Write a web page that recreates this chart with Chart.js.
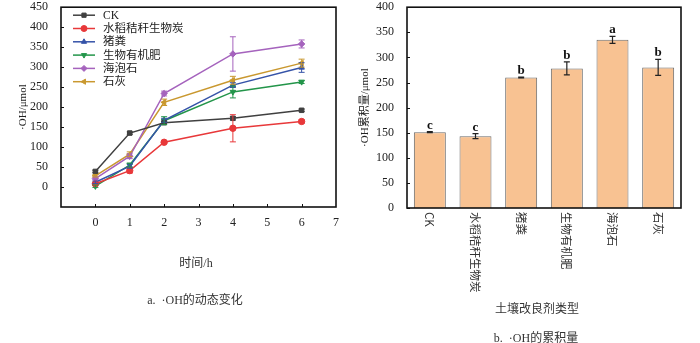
<!DOCTYPE html>
<html><head><meta charset="utf-8">
<script src="https://cdn.jsdelivr.net/npm/chart.js@4.4.1/dist/chart.umd.min.js"></script>
<style>
html,body{margin:0;padding:0;background:#fff;width:700px;height:343px;overflow:hidden;position:relative;}
canvas{position:absolute;top:-5px;}
#c1{left:0;} #c2{left:350px;}
.t{position:absolute;transform:translate(-50%,-50%);white-space:nowrap;color:#333;font-family:'Liberation Serif','Noto Sans CJK SC',serif;font-size:12px;}
</style></head><body>
<canvas id="c1" width="350" height="348"></canvas>
<canvas id="c2" width="350" height="348"></canvas>
<div class="t" style="left:196px;top:262px;">时间/h</div>
<div class="t" style="left:195px;top:299px;">a.&nbsp;&nbsp;·OH的动态变化</div>
<div class="t" style="left:537px;top:308px;">土壤改良剂类型</div>
<div class="t" style="left:536px;top:337px;">b.&nbsp;&nbsp;·OH的累积量</div>
<script>
// ---------- data ----------
const times = [0, 1, 2, 4, 6];
const seriesNames = ['CK', '水稻秸秆生物炭', '猪粪', '生物有机肥', '海泡石', '石灰'];
const ckVals    = [39, 135, 161, 172, 192];
const ckErr     = [3, 3, 3, 4, 3];
const bioVals   = [8, 41, 112, 147, 164];
const bioErr    = [3, 6, 3, 34, 4];
const pigVals   = [12, 52, 167, 255, 299];
const pigErr    = [3, 5, 5, 6, 12];
const orgVals   = [2, 55, 166, 238, 263];
const orgErr    = [3, 5, 10, 15, 4];
const sepVals   = [21, 77, 234, 333, 358];
const sepErr    = [3, 6, 6, 43, 10];
const limeVals  = [28, 82, 212, 267, 310];
const limeErr   = [3, 6, 8, 10, 10];
const xTicks = [0, 1, 2, 3, 4, 5, 6, 7];
const yTicksA = [0, 50, 100, 150, 200, 250, 300, 350, 400, 450];

const barCats = ['CK', '水稻秸秆生物炭', '猪粪', '生物有机肥', '海泡石', '石灰'];
const barVals = [151, 143, 260, 278, 335, 280];
const barErr  = [1, 5, 1, 13, 7, 16];
const barLetters = ['c', 'c', 'b', 'b', 'a', 'b'];
const yTicksB = [0, 50, 100, 150, 200, 250, 300, 350, 400];

// ---------- styles ----------
const SERIF = "'Liberation Serif','Noto Sans CJK SC',serif";
const SANS = "'Noto Sans CJK SC','Liberation Sans',sans-serif";
const colors = ['#404040', '#e8383a', '#3553a8', '#23954a', '#a563bd', '#c9982f'];
const styles = [
  {pointStyle:'rect', rotation:0},
  {pointStyle:'circle', rotation:0},
  {pointStyle:'triangle', rotation:0},
  {pointStyle:'triangle', rotation:180},
  {pointStyle:'rectRot', rotation:0},
  {pointStyle:'triangle', rotation:-90}
];
const allVals = [ckVals, bioVals, pigVals, orgVals, sepVals, limeVals];
const allErr = [ckErr, bioErr, pigErr, orgErr, sepErr, limeErr];

function frameAndTicks(chart, xTickVals, yTickVals) {
  const ctx = chart.ctx, a = chart.chartArea;
  const xs = chart.scales.x, ys = chart.scales.y;
  ctx.save();
  ctx.strokeStyle = '#111';
  ctx.lineWidth = 1;
  ctx.beginPath();
  yTickVals.forEach(v => { const y = Math.round(ys.getPixelForValue(v)) + 0.5; ctx.moveTo(a.left, y); ctx.lineTo(a.left + 3, y); });
  if (xTickVals) xTickVals.forEach(v => { const x = Math.round(xs.getPixelForValue(v)) + 0.5; ctx.moveTo(x, a.bottom); ctx.lineTo(x, a.bottom - 3); });
  ctx.stroke();
  ctx.lineWidth = 1.6;
  ctx.strokeRect(a.left, a.top, a.right - a.left, a.bottom - a.top);
  ctx.restore();
}

// ---------- chart a ----------
const lineDatasets = seriesNames.map((n, i) => ({
  label: n,
  data: times.map((t, j) => ({x: t, y: allVals[i][j]})),
  borderColor: colors[i], backgroundColor: colors[i],
  borderWidth: 1.5, pointRadius: 3.2, pointBorderWidth: 1,
  pointStyle: styles[i].pointStyle, pointRotation: styles[i].rotation,
  tension: 0
}));

const pluginA = {
  id: 'pa',
  afterDatasetsDraw(chart) {
    const ctx = chart.ctx, ys = chart.scales.y, a = chart.chartArea;
    ctx.save();
    ctx.lineWidth = 1;
    chart.data.datasets.forEach((ds, i) => {
      const meta = chart.getDatasetMeta(i);
      ctx.strokeStyle = colors[i];
      meta.data.forEach((pt, j) => {
        const v = allVals[i][j], e = allErr[i][j];
        const y1 = ys.getPixelForValue(v + e), y2 = ys.getPixelForValue(v - e);
        ctx.beginPath();
        ctx.moveTo(pt.x, y1); ctx.lineTo(pt.x, y2);
        ctx.moveTo(pt.x - 3, y1); ctx.lineTo(pt.x + 3, y1);
        ctx.moveTo(pt.x - 3, y2); ctx.lineTo(pt.x + 3, y2);
        ctx.stroke();
      });
    });
    // legend (inside plot, top-left)
    const lx1 = a.left + 12, lx2 = a.left + 34, tx = a.left + 42, y0 = a.top + 8, dy = 13.3;
    seriesNames.forEach((n, i) => {
      const y = y0 + i * dy;
      ctx.strokeStyle = colors[i]; ctx.fillStyle = colors[i]; ctx.lineWidth = 1.5;
      ctx.beginPath(); ctx.moveTo(lx1, y); ctx.lineTo(lx2, y); ctx.stroke();
      ctx.lineWidth = 1;
      Chart.helpers.drawPoint(ctx, {pointStyle: styles[i].pointStyle, rotation: styles[i].rotation, radius: 3, borderWidth: 1}, (lx1 + lx2) / 2, y);
      ctx.fillStyle = '#222';
      ctx.font = '11.5px ' + SERIF;
      ctx.textBaseline = 'middle'; ctx.textAlign = 'left';
      ctx.fillText(n, tx, y + 0.5);
    });
    ctx.restore();
    frameAndTicks(chart, [0,1,2,3,4,5,6], yTicksA);
  }
};

new Chart(document.getElementById('c1'), {
  type: 'line',
  data: {datasets: lineDatasets},
  options: {
    responsive: false, animation: false,
    layout: {padding: {left: 0, right: 14, top: 0, bottom: 0}},
    plugins: {legend: {display: false}, tooltip: {enabled: false}},
    scales: {
      x: {
        type: 'linear', min: -1, max: 7,
        afterBuildTicks: s => { s.ticks = [-1].concat(xTicks).map(v => ({value: v})); },
        ticks: {callback: v => v < 0 ? '' : String(v), font: {family: SERIF, size: 12}, color: '#222', padding: 1, maxRotation: 0, autoSkip: false},
        grid: {display: false}, border: {display: false},
        afterFit: s => { s.height = 136; }
      },
      y: {
        min: -50, max: 450,
        afterBuildTicks: s => { s.ticks = yTicksA.map(v => ({value: v})); },
        ticks: {font: {family: SERIF, size: 12}, color: '#222', padding: 5},
        grid: {display: false}, border: {display: false},
        title: {display: true, text: '·OH/μmol', font: {family: SERIF, size: 11}, color: '#222', padding: {top: 17, bottom: 0}},
        afterFit: s => { s.width = 61; }
      }
    }
  },
  plugins: [pluginA]
});

// ---------- chart b ----------
const pluginB = {
  id: 'pb',
  afterDatasetsDraw(chart) {
    const ctx = chart.ctx, ys = chart.scales.y, xs = chart.scales.x, a = chart.chartArea;
    const meta = chart.getDatasetMeta(0);
    ctx.save();
    ctx.strokeStyle = '#222'; ctx.lineWidth = 1.2;
    meta.data.forEach((bar, j) => {
      const v = barVals[j], e = barErr[j];
      const y1 = ys.getPixelForValue(v + e), y2 = ys.getPixelForValue(v - e);
      ctx.beginPath();
      ctx.moveTo(bar.x, y1); ctx.lineTo(bar.x, y2);
      ctx.moveTo(bar.x - 3, y1); ctx.lineTo(bar.x + 3, y1);
      ctx.moveTo(bar.x - 3, y2); ctx.lineTo(bar.x + 3, y2);
      ctx.stroke();
      ctx.fillStyle = '#111';
      ctx.font = 'bold 13px ' + SERIF;
      ctx.textAlign = 'center'; ctx.textBaseline = 'alphabetic';
      ctx.fillText(barLetters[j], bar.x, y1 - 3);
    });
    // rotated category labels (top-to-bottom)
    ctx.fillStyle = '#333';
    ctx.font = '11.5px ' + SANS;
    barCats.forEach((c, j) => {
      const x = xs.getPixelForTick(j);
      ctx.save();
      ctx.translate(x, a.bottom + 4);
      ctx.rotate(Math.PI / 2);
      ctx.textAlign = 'left'; ctx.textBaseline = 'middle';
      ctx.fillText(c, 0, 0);
      ctx.restore();
    });
    ctx.restore();
    frameAndTicks(chart, null, yTicksB);
  }
};

new Chart(document.getElementById('c2'), {
  type: 'bar',
  data: {labels: barCats, datasets: [{
    data: barVals, backgroundColor: '#f8c292', borderColor: '#6b6b6b', borderWidth: 1,
    categoryPercentage: 1, barPercentage: 0.7
  }]},
  options: {
    responsive: false, animation: false,
    layout: {padding: {left: 0, right: 19, top: 0, bottom: 0}},
    plugins: {legend: {display: false}, tooltip: {enabled: false}},
    scales: {
      x: {
        ticks: {display: false},
        grid: {display: false}, border: {display: false},
        afterFit: s => { s.height = 135; }
      },
      y: {
        min: 0, max: 400,
        afterBuildTicks: s => { s.ticks = yTicksB.map(v => ({value: v})); },
        ticks: {font: {family: SERIF, size: 12}, color: '#222', padding: 5},
        grid: {display: false}, border: {display: false},
        title: {display: true, text: '·OH累积量/μmol', font: {family: SERIF, size: 11}, color: '#222', padding: {top: 9, bottom: 0}},
        afterFit: s => { s.width = 57; }
      }
    }
  },
  plugins: [pluginB]
});
</script>
</body></html>
